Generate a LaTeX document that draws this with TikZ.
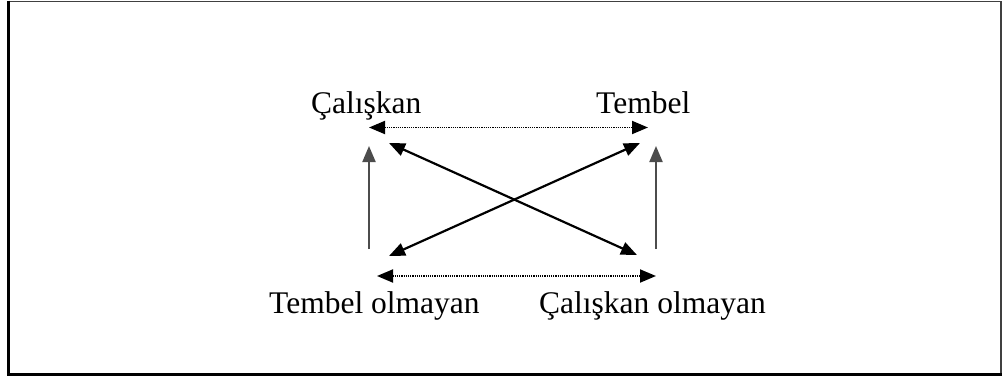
\documentclass[tikz,border=0pt]{standalone}
\usepackage{fontspec}
\setmainfont{Liberation Serif}
\usetikzlibrary{arrows.meta}
\begin{document}
\begin{tikzpicture}[x=1pt,y=-1pt,
  lbl/.style={anchor=base west, inner sep=0pt, font=\fontsize{31.5}{36}\selectfont},
  tip/.style={-{Triangle[length=16pt,width=13pt]}},
  bitip/.style={{Triangle[length=16pt,width=13pt]}-{Triangle[length=16pt,width=13pt]}},
  solidarrow/.style={line width=2.2pt, black},
  vertarrow/.style={line width=2pt, black!70},
  dotarrow/.style={line width=1.9pt, dash pattern=on 1.2pt off 1.0pt, black}]
\useasboundingbox (0,0) rectangle (1005,383);
% frame
\draw[line width=1.5pt, black!75] (8.5,1.7) -- (1001,1.7) -- (1001,374.5);
\draw[line width=3pt] (8.5,0.5) -- (8.5,374.5) -- (1002,374.5);
% labels
\node[lbl] (cal) at (311,113) {Çalışkan};
\node[lbl] (tem) at (596,113) {Tembel};
\node[lbl] (temo) at (269,313) {Tembel olmayan};
\node[lbl] (calo) at (539,313) {Çalışkan olmayan};
% arrow end points
\coordinate (tdl) at (369,127.5);
\coordinate (tdr) at (648,127.5);
\coordinate (bdl) at (377,276);
\coordinate (bdr) at (656,276);
\coordinate (vlb) at (369,249);
\coordinate (vlt) at (369,146);
\coordinate (vrb) at (656,249);
\coordinate (vrt) at (656,146);
\coordinate (cul) at (389,143);
\coordinate (clr) at (637,255);
\coordinate (cll) at (389,256);
\coordinate (cur) at (640,143);
% connectors
\draw[dotarrow, bitip] (tdl) -- (tdr);
\draw[dotarrow, bitip] (bdl) -- (bdr);
\draw[vertarrow, tip] (vlb) -- (vlt);
\draw[vertarrow, tip] (vrb) -- (vrt);
\draw[solidarrow, bitip] (cul) -- (clr);
\draw[solidarrow, bitip] (cll) -- (cur);
\end{tikzpicture}
\end{document}
